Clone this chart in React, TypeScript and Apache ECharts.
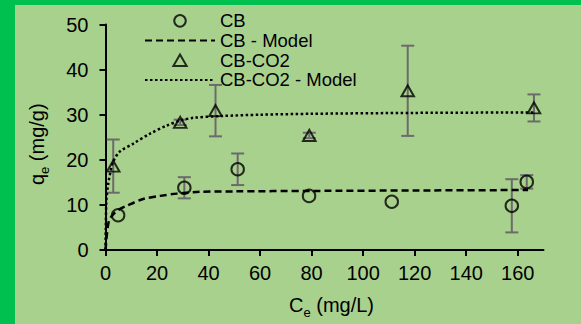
import React, { useEffect, useRef } from "react";
import * as echarts from "echarts";

// Measured data: CB (circles)
const cbX = [4.9, 30.6, 51.3, 79, 111.1, 157.7, 163.5];
const cbY = [7.7, 13.8, 17.9, 12.0, 10.7, 9.8, 15.1];
const cbErr = [0, 2.35, 3.5, 0, 0, 5.9, 1.5];

// CB-CO2 (triangles)
const co2X = [3.0, 29.0, 42.7, 79.1, 117.3, 166.3];
const co2Y = [18.6, 28.3, 30.9, 25.4, 35.3, 31.5];
const co2Err = [5.9, 0.6, 5.7, 0.6, 10.0, 3.0];

// Model curves
const cbModelX = [0, 0.6, 1.4, 3, 5, 8.2, 14.6, 21.2, 27.7, 36.8, 50, 80, 120, 164];
const cbModelY = [0, 3.7, 6.6, 7.9, 8.9, 9.8, 11.3, 12.0, 12.5, 12.9, 13.0, 13.1, 13.2, 13.3];

const co2ModelX = [0, 0.1, 0.35, 1, 2, 3, 5.5, 10.8, 17.3, 23.8, 29, 34, 45, 60, 80, 120, 166];
const co2ModelY = [0, 4.5, 10.9, 14.5, 17.5, 19.6, 21.8, 23.6, 25.8, 27.6, 28.7, 29.3, 29.7, 30.0, 30.2, 30.4, 30.5];

const xTicks = [0, 20, 40, 60, 80, 100, 120, 140, 160];
const legendNames = ["CB", "CB - Model", "CB-CO2", "CB-CO2 - Model"];

const FONT = '"Liberation Sans", Arial, sans-serif';
const TRIANGLE = "path://M6,0L12,10.4L0,10.4Z";

function pairs(xs: number[], ys: number[]) {
  return xs.map((x, i) => [x, ys[i]]);
}
function errRows(xs: number[], ys: number[], es: number[]) {
  return xs.map((x, i) => [x, ys[i], es[i]]).filter((r) => r[2] > 0);
}

const errStyle = { stroke: "#6b6b6b", lineWidth: 2, fill: "none" };
function renderErr(params: any, api: any) {
  const x = api.value(0);
  const y = api.value(1);
  const e = api.value(2);
  const t = api.coord([x, y + e]);
  const b = api.coord([x, y - e]);
  const w = 6.5;
  return {
    type: "group",
    children: [
      { type: "line", shape: { x1: t[0], y1: t[1], x2: b[0], y2: b[1] }, style: errStyle },
      { type: "line", shape: { x1: t[0] - w, y1: t[1], x2: t[0] + w, y2: t[1] }, style: errStyle },
      { type: "line", shape: { x1: b[0] - w, y1: b[1], x2: b[0] + w, y2: b[1] }, style: errStyle },
    ],
  };
}

export default function App() {
  const ref = useRef<HTMLDivElement>(null);
  useEffect(() => {
    document.body.style.margin = "0";
    const chart = echarts.init(ref.current!, null, { renderer: "svg" });
    const axisLineStyle = { color: "#000", width: 2 };
    const richName = {
      a: { fontSize: 20, fontFamily: FONT, color: "#000", lineHeight: 28 },
      b: { fontSize: 13, fontFamily: FONT, color: "#000", lineHeight: 14, verticalAlign: "bottom" },
    };
    const hiddenSymbol = { color: "rgba(0,0,0,0)", borderColor: "rgba(0,0,0,0)", borderWidth: 0 };
    chart.setOption({
      animation: false,
      backgroundColor: "#00C050",
      graphic: [
        {
          type: "rect",
          z: -10,
          shape: { x: 15, y: 5, width: 566, height: 319 },
          style: { fill: "#A9D18E" },
          silent: true,
        },
      ],
      grid: { left: 105.5, right: 37.5, top: 24.5, bottom: 68.7, containLabel: false },
      xAxis: {
        type: "value",
        min: 0,
        max: 170,
        interval: 20,
        splitLine: { show: false },
        axisLine: { lineStyle: axisLineStyle },
        axisTick: { show: true, length: 6, lineStyle: axisLineStyle, customValues: xTicks },
        axisLabel: { customValues: xTicks, fontSize: 20, fontFamily: FONT, color: "#000", margin: 13 },
        name: "{a|C}{b|e}{a| (mg/L)}",
        nameLocation: "middle",
        nameGap: 41,
        nameTextStyle: { rich: richName, padding: [0, 0, 0, 14] },
      },
      yAxis: {
        type: "value",
        min: 0,
        max: 50,
        interval: 10,
        splitLine: { show: false },
        axisLine: { lineStyle: axisLineStyle },
        axisTick: { show: true, length: 6, lineStyle: axisLineStyle },
        axisLabel: { fontSize: 20, fontFamily: FONT, color: "#000", margin: 17 },
        name: "{a|q}{b|e}{a| (mg/g)}",
        nameLocation: "middle",
        nameGap: 55,
        nameTextStyle: { rich: richName, padding: [0, 14, 0, 0] },
      },
      legend: {
        data: [
          { name: legendNames[0], icon: "circle" },
          { name: legendNames[1], itemStyle: hiddenSymbol },
          { name: legendNames[2], icon: TRIANGLE },
          { name: legendNames[3], itemStyle: hiddenSymbol },
        ],
        orient: "vertical",
        left: 139,
        top: 6,
        itemWidth: 70,
        itemHeight: 11.5,
        itemGap: 0,
        symbolKeepAspect: true,
        textStyle: { fontSize: 18.5, fontFamily: FONT, color: "#000", lineHeight: 19.7 },
      },
      series: [
        {
          type: "custom",
          name: "errCB",
          renderItem: renderErr,
          data: errRows(cbX, cbY, cbErr),
          encode: { x: 0, y: 1 },
          silent: true,
          z: 1,
        },
        {
          type: "custom",
          name: "errCO2",
          renderItem: renderErr,
          data: errRows(co2X, co2Y, co2Err),
          encode: { x: 0, y: 1 },
          silent: true,
          z: 1,
        },
        {
          type: "line",
          name: "CB - Model",
          data: pairs(cbModelX, cbModelY),
          symbol: "none",
          smooth: 0.3,
          lineStyle: { color: "#000", width: 2.5, type: [7, 4] },
          itemStyle: { color: "#000" },
          z: 2,
        },
        {
          type: "line",
          name: "CB-CO2 - Model",
          data: pairs(co2ModelX, co2ModelY),
          symbol: "none",
          smooth: 0.3,
          lineStyle: { color: "#000", width: 2.5, type: [2.5, 2.5] },
          itemStyle: { color: "#000" },
          z: 2,
        },
        {
          type: "scatter",
          name: "CB",
          data: pairs(cbX, cbY),
          symbol: "circle",
          symbolSize: 12.5,
          itemStyle: { color: "rgba(0,0,0,0)", borderColor: "#000", borderWidth: 2 },
          z: 3,
        },
        {
          type: "scatter",
          name: "CB-CO2",
          data: pairs(co2X, co2Y),
          symbol: "triangle",
          symbolSize: [12.5, 11],
          itemStyle: { color: "rgba(0,0,0,0)", borderColor: "#000", borderWidth: 2 },
          z: 3,
        },
      ],
    });
    return () => chart.dispose();
  }, []);
  return <div ref={ref} style={{ width: 581, height: 324 }} />;
}
